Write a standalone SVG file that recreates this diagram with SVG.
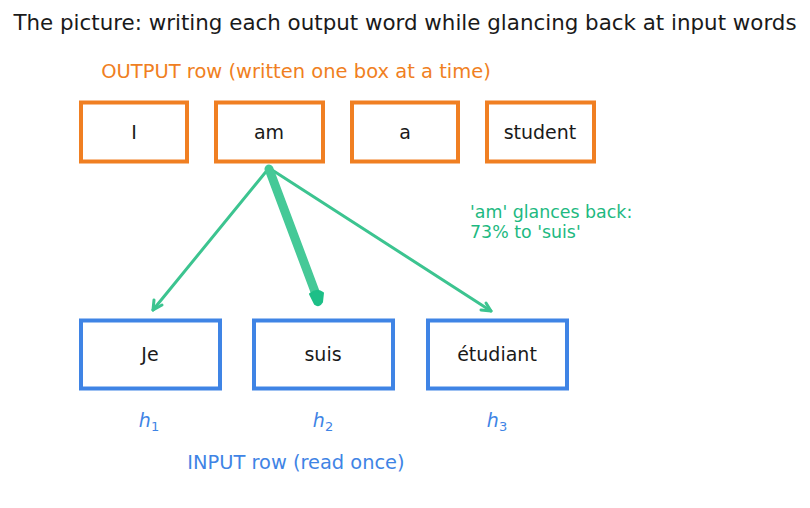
<svg xmlns="http://www.w3.org/2000/svg" width="810" height="508" viewBox="0 0 810 508">
<style>
text{font-family:"DejaVu Sans","Liberation Sans",sans-serif}
.out{fill:#fff;stroke:#F07F22;stroke-width:4}
.in{fill:#fff;stroke:#3F84E5;stroke-width:4}
.lbl{font-size:19px;fill:#1a1a1a;text-anchor:middle}
.h{font-size:19px;fill:#3F84E5;text-anchor:middle;font-style:italic}
.thin{stroke:#3CC490;stroke-width:3;fill:none;stroke-linecap:round;stroke-linejoin:round}
</style>
<rect width="810" height="508" fill="#fff"/>
<text x="405" y="30" font-size="21.4" fill="#1a1a1a" text-anchor="middle">The picture: writing each output word while glancing back at input words</text>
<text x="296" y="78" font-size="19.5" fill="#F07F22" text-anchor="middle">OUTPUT row (written one box at a time)</text>
<g id="out-I"><rect class="out" x="81" y="102.5" width="106" height="59"/><text class="lbl" x="134" y="139">I</text></g>
<g id="out-am"><rect class="out" x="216" y="102.5" width="107" height="59"/><text class="lbl" x="269" y="139">am</text></g>
<g id="out-a"><rect class="out" x="352" y="102.5" width="106" height="59"/><text class="lbl" x="405" y="139">a</text></g>
<g id="out-student"><rect class="out" x="487" y="102.5" width="107" height="59"/><text class="lbl" x="540" y="139">student</text></g>
<g id="connectors">
<path class="thin" d="M269,168 L153,310"/>
<path class="thin" d="M153,310 L154,300 M153,310 L162,305"/>
<path class="thin" d="M269,168 L491,311"/>
<path class="thin" d="M491,311 L481,310 M491,311 L486,303"/>
<path d="M269,169 L317,297" stroke="#45C997" stroke-width="9" stroke-linecap="round" fill="none"/>
<path d="M310,294 Q317,288 323,293 L322,302 Q319,307 315,304 Z" fill="#1DBF87" stroke="#1DBF87" stroke-width="2" stroke-linejoin="round"/>
</g>
<text x="470" y="218" font-size="17.4" fill="#1DB981">'am' glances back:</text>
<text x="470" y="238" font-size="17.4" fill="#1DB981">73% to 'suis'</text>
<g id="in-Je"><rect class="in" x="81" y="320.5" width="139" height="68"/><text class="lbl" x="150" y="361">Je</text></g>
<g id="in-suis"><rect class="in" x="254" y="320.5" width="139" height="68"/><text class="lbl" x="323" y="361">suis</text></g>
<g id="in-etudiant"><rect class="in" x="428" y="320.5" width="139" height="68"/><text class="lbl" x="497" y="361">étudiant</text></g>
<text class="h" x="149" y="427">h<tspan font-size="13" font-style="normal" dy="4">1</tspan></text>
<text class="h" x="323" y="427">h<tspan font-size="13" font-style="normal" dy="4">2</tspan></text>
<text class="h" x="497" y="427">h<tspan font-size="13" font-style="normal" dy="4">3</tspan></text>
<text x="296" y="469" font-size="19.4" fill="#3F84E5" text-anchor="middle">INPUT row (read once)</text>
</svg>
